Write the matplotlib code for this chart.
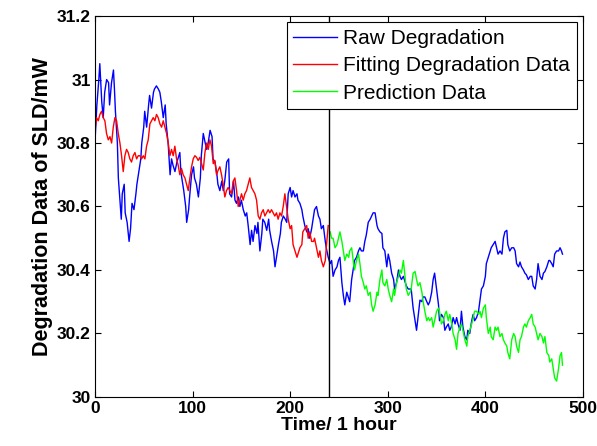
# GRÁFICO DE DEGRADAÇÃO DO SLD - dados brutos, ajuste e previsão #
import numpy as np
import matplotlib
matplotlib.use("Agg")
import matplotlib.pyplot as plt
from matplotlib.ticker import FormatStrFormatter

# Dados brutos (linha azul)
raw_hours = [0, 2, 4, 5, 7, 8.5, 10, 12, 14, 15, 17, 19, 20, 21, 23, 24, 26, 27, 28, 30,
             31, 33, 35, 36.5, 38, 40, 42, 43, 45, 47, 48, 50, 51, 53, 55, 56, 58, 60, 61, 63,
             65, 66.5, 68, 70, 72, 73, 75, 77, 78.5, 80, 82, 84, 85, 87, 88, 89, 91, 93, 94, 96,
             97, 99, 101, 102, 104, 106, 108, 109, 111, 113, 114.5, 116, 118, 120, 121, 123, 125, 126, 128, 130,
             131.5, 133, 135, 137, 138, 140, 142, 143.5, 145, 147, 148.5, 150, 152, 154, 155.5, 157, 159, 160.5, 162, 164,
             166, 167, 169, 171, 172, 174, 176, 178, 179, 181, 183, 184.5, 186, 188, 190, 191, 193, 195, 196.5, 198,
             200, 201.5, 203, 205, 207, 208, 210, 212, 213, 215, 217, 218.5, 220, 222, 224, 225, 227, 229, 230.5, 232,
             234, 236, 237, 239, 241, 242.5, 244, 246, 248, 249.5, 251, 253, 254.5, 256, 258, 260, 261, 263, 265, 266,
             268, 270, 271.5, 273, 275, 276.5, 278, 280, 282, 283.5, 285, 287, 289, 290, 292, 294, 295, 297, 299, 300.5,
             302, 304, 306, 307, 309, 311, 312.5, 314, 316, 318, 319, 321, 323, 324, 326, 328, 329.5, 331, 333, 335,
             336, 338, 340, 341.5, 343, 345, 346.5, 348, 350, 352, 353, 355, 357, 358.5, 360, 362, 363.5, 365, 367, 369,
             370.5, 372, 374, 375.5, 377, 379, 381, 382, 384, 386, 387.5, 389, 391, 393, 394.5, 396, 398, 400, 401, 403,
             405, 406, 408, 410, 411.5, 413, 415, 417, 418.5, 420, 422, 423, 425, 427, 429, 430.5, 432, 434, 435.5, 437,
             439, 440.5, 442, 444, 446, 447.5, 449, 451, 452.5, 454, 456, 458, 459.5, 461, 463, 465, 466, 468, 469.5, 471,
             473, 475, 476.5, 478, 479]
raw_values = [30.80, 30.92, 31.00, 31.05, 30.93, 30.88, 30.96, 31.00, 30.99, 30.92, 30.99, 31.03, 30.97, 30.90, 30.80, 30.69, 30.60, 30.56, 30.64, 30.67,
              30.58, 30.55, 30.49, 30.53, 30.61, 30.59, 30.64, 30.67, 30.71, 30.75, 30.80, 30.85, 30.90, 30.85, 30.92, 30.95, 30.91, 30.96, 30.97, 30.98,
              30.97, 30.96, 30.93, 30.88, 30.92, 30.86, 30.80, 30.70, 30.75, 30.73, 30.71, 30.74, 30.75, 30.77, 30.71, 30.69, 30.65, 30.60, 30.55, 30.59,
              30.63, 30.70, 30.725, 30.69, 30.67, 30.63, 30.69, 30.76, 30.83, 30.80, 30.78, 30.80, 30.84, 30.82, 30.75, 30.74, 30.70, 30.67, 30.65, 30.68,
              30.65, 30.68, 30.74, 30.75, 30.64, 30.63, 30.68, 30.62, 30.61, 30.63, 30.60, 30.62, 30.59, 30.57, 30.58, 30.54, 30.48, 30.525, 30.49, 30.54,
              30.515, 30.55, 30.46, 30.515, 30.56, 30.55, 30.525, 30.56, 30.525, 30.49, 30.46, 30.41, 30.44, 30.48, 30.515, 30.55, 30.57, 30.56, 30.55, 30.64,
              30.66, 30.63, 30.65, 30.63, 30.64, 30.62, 30.61, 30.59, 30.57, 30.54, 30.52, 30.53, 30.50, 30.53, 30.57, 30.59, 30.60, 30.57, 30.56, 30.53,
              30.54, 30.49, 30.47, 30.44, 30.42, 30.43, 30.38, 30.40, 30.41, 30.43, 30.44, 30.36, 30.32, 30.29, 30.33, 30.31, 30.30, 30.37, 30.41, 30.43,
              30.44, 30.46, 30.47, 30.46, 30.46, 30.49, 30.51, 30.55, 30.56, 30.57, 30.58, 30.58, 30.54, 30.53, 30.52, 30.515, 30.47, 30.46, 30.41, 30.45,
              30.43, 30.39, 30.37, 30.34, 30.36, 30.40, 30.38, 30.37, 30.38, 30.36, 30.35, 30.34, 30.34, 30.34, 30.28, 30.24, 30.21, 30.25, 30.305, 30.30,
              30.315, 30.315, 30.30, 30.29, 30.30, 30.33, 30.37, 30.39, 30.34, 30.29, 30.24, 30.26, 30.25, 30.21, 30.22, 30.23, 30.21, 30.22, 30.25, 30.23,
              30.25, 30.23, 30.21, 30.27, 30.22, 30.19, 30.18, 30.21, 30.20, 30.24, 30.26, 30.24, 30.25, 30.27, 30.305, 30.34, 30.35, 30.38, 30.42, 30.44,
              30.46, 30.47, 30.48, 30.49, 30.47, 30.45, 30.46, 30.45, 30.50, 30.52, 30.525, 30.48, 30.46, 30.47, 30.47, 30.46, 30.42, 30.41, 30.425, 30.41,
              30.40, 30.39, 30.385, 30.37, 30.38, 30.38, 30.35, 30.34, 30.37, 30.42, 30.38, 30.37, 30.39, 30.395, 30.41, 30.43, 30.43, 30.42, 30.41, 30.45,
              30.46, 30.46, 30.47, 30.46, 30.45]

# Dados ajustados (linha vermelha) - até 240 h
fit_hours = [0, 1.7, 3.4, 5.1, 6.8, 8.5, 10.2, 11.9, 13.7, 15.4, 17.1, 18.8, 20.5, 22.2, 23.9, 25.6, 27.3, 29.0, 30.7, 32.4,
             34.1, 35.8, 37.5, 39.2, 41.0, 42.7, 44.4, 46.1, 47.8, 49.5, 51.2, 52.9, 54.6, 56.3, 58.0, 59.7, 61.4, 63.1, 64.8, 66.6,
             68.3, 70.0, 71.7, 73.4, 75.1, 76.8, 78.5, 80.2, 81.9, 83.6, 85.3, 87.0, 88.7, 90.4, 92.2, 93.9, 95.6, 97.3, 99.0, 100.7,
             102.4, 104.1, 105.8, 107.5, 109.2, 111.0, 112.7, 114.4, 116.1, 117.8, 119.5, 121.2, 122.9, 124.6, 126.3, 128.0, 129.7, 131.4, 133.1, 134.8,
             136.5, 138.3, 140.0, 141.7, 143.4, 145.1, 146.8, 148.5, 150.2, 151.9, 153.6, 155.3, 157.0, 158.7, 160.4, 162.1, 163.9, 165.6, 167.3, 169.0,
             170.7, 172.4, 174.1, 175.8, 177.5, 179.2, 180.9, 182.6, 184.3, 186.0, 187.7, 189.5, 191.2, 192.9, 194.6, 196.3, 198, 200, 201.5, 203,
             205, 207, 208, 210, 212, 213, 215, 217, 218.5, 220, 222, 224, 225, 227, 229, 230.5, 232, 234, 236, 237,
             239]
fit_values = [30.84, 30.88, 30.87, 30.89, 30.90, 30.88, 30.87, 30.83, 30.81, 30.82, 30.80, 30.85, 30.88, 30.87, 30.83, 30.80, 30.76, 30.71, 30.76, 30.78,
              30.77, 30.75, 30.74, 30.76, 30.77, 30.75, 30.76, 30.76, 30.75, 30.76, 30.75, 30.79, 30.81, 30.86, 30.87, 30.88, 30.87, 30.89, 30.88, 30.86,
              30.85, 30.87, 30.85, 30.83, 30.80, 30.76, 30.78, 30.76, 30.79, 30.75, 30.73, 30.70, 30.72, 30.70, 30.69, 30.67, 30.65, 30.69, 30.725, 30.75,
              30.76, 30.755, 30.745, 30.755, 30.735, 30.715, 30.77, 30.80, 30.78, 30.81, 30.79, 30.735, 30.745, 30.70, 30.715, 30.725, 30.70, 30.67, 30.63, 30.65,
              30.66, 30.65, 30.64, 30.68, 30.69, 30.65, 30.60, 30.62, 30.64, 30.62, 30.64, 30.65, 30.67, 30.69, 30.66, 30.65, 30.64, 30.62, 30.57, 30.56,
              30.58, 30.59, 30.57, 30.58, 30.59, 30.58, 30.59, 30.58, 30.57, 30.58, 30.56, 30.58, 30.57, 30.60, 30.64, 30.60, 30.56, 30.53, 30.54, 30.48,
              30.46, 30.44, 30.45, 30.47, 30.48, 30.52, 30.53, 30.54, 30.50, 30.52, 30.49, 30.49, 30.50, 30.47, 30.44, 30.46, 30.43, 30.41, 30.43, 30.47,
              30.54]

# Dados de previsão (linha verde) - a partir de 240 h
pred_hours = [241, 242.5, 244, 246, 248, 249.5, 251, 253, 254.5, 256, 258, 260, 261, 263, 265, 266, 268, 270, 271.5, 273,
              275, 276.5, 278, 280, 282, 283.5, 285, 287, 289, 290, 292, 294, 295, 297, 299, 300.5, 302, 304, 306, 307,
              309, 311, 312.5, 314, 316, 318, 319, 321, 323, 324, 326, 328, 329.5, 331, 333, 335, 336, 338, 340, 341.5,
              343, 345, 346.5, 348, 350, 352, 353, 355, 357, 358.5, 360, 362, 363.5, 365, 367, 369, 370.5, 372, 374, 375.5,
              377, 379, 381, 382, 384, 386, 387.5, 389, 391, 393, 394.5, 396, 398, 400, 401, 403, 405, 406, 408, 410,
              411.5, 413, 415, 417, 418.5, 420, 422, 423, 425, 427, 429, 430.5, 432, 434, 435.5, 437, 439, 440.5, 442, 444,
              446, 447.5, 449, 451, 452.5, 454, 456, 458, 459.5, 461, 463, 465, 466, 468, 469.5, 471, 473, 475, 476.5, 478,
              479]
pred_values = [30.52, 30.50, 30.50, 30.47, 30.48, 30.50, 30.52, 30.49, 30.46, 30.43, 30.45, 30.44, 30.46, 30.47, 30.42, 30.40, 30.43, 30.45, 30.42, 30.38,
               30.36, 30.34, 30.35, 30.32, 30.33, 30.29, 30.27, 30.29, 30.33, 30.32, 30.37, 30.40, 30.36, 30.35, 30.37, 30.34, 30.32, 30.30, 30.34, 30.32,
               30.36, 30.38, 30.40, 30.39, 30.43, 30.37, 30.34, 30.32, 30.33, 30.34, 30.39, 30.395, 30.37, 30.35, 30.36, 30.33, 30.305, 30.27, 30.24, 30.25,
               30.24, 30.25, 30.22, 30.24, 30.27, 30.28, 30.27, 30.23, 30.24, 30.26, 30.27, 30.24, 30.26, 30.24, 30.20, 30.18, 30.15, 30.20, 30.22, 30.23,
               30.21, 30.18, 30.16, 30.19, 30.21, 30.23, 30.25, 30.27, 30.27, 30.26, 30.27, 30.25, 30.28, 30.29, 30.25, 30.20, 30.22, 30.19, 30.18, 30.22,
               30.21, 30.22, 30.19, 30.20, 30.18, 30.17, 30.16, 30.14, 30.12, 30.18, 30.20, 30.19, 30.16, 30.14, 30.18, 30.19, 30.22, 30.23, 30.22, 30.24,
               30.25, 30.26, 30.23, 30.22, 30.20, 30.18, 30.20, 30.19, 30.17, 30.19, 30.14, 30.13, 30.11, 30.12, 30.09, 30.06, 30.05, 30.09, 30.13, 30.14,
               30.10]

split_hour = 240  # instante em que começa a previsão

x_ticks = [0, 100, 200, 300, 400, 500]
y_ticks = [30, 30.2, 30.4, 30.6, 30.8, 31, 31.2]

plt.rcParams['font.family'] = ['Liberation Sans', 'DejaVu Sans']

fig = plt.figure(figsize=(5.97, 4.46), dpi=100)
ax = fig.add_axes([0.159, 0.110, 0.8175, 0.854])

ax.plot(raw_hours, raw_values, color='#0000ff', linewidth=1.0, label='Raw Degradation')
ax.plot(fit_hours, fit_values, color='#ff0000', linewidth=1.0, label='Fitting Degradation Data')
ax.plot(pred_hours, pred_values, color='#00ff00', linewidth=1.0, label='Prediction Data')
ax.axvline(split_hour, color='black', linewidth=1.0)

ax.set_xlim(0, 500)
ax.set_ylim(30, 31.2)
ax.set_xticks(x_ticks)
ax.set_yticks(y_ticks)
ax.yaxis.set_major_formatter(FormatStrFormatter('%g'))

# estilo MATLAB: ticks para dentro nos quatro lados
ax.tick_params(direction='in', length=4, width=0.8, top=True, right=True, labelsize=12.5, pad=3)
for lbl in ax.get_xticklabels() + ax.get_yticklabels():
    lbl.set_fontweight('bold')
for s in ax.spines.values():
    s.set_linewidth(0.8)

ax.set_xlabel('Time/ 1 hour', fontsize=14, fontweight='bold', labelpad=1)
ax.set_ylabel('Degradation Data of SLD/mW', fontsize=15.5, fontweight='bold', labelpad=3)

leg = ax.legend(loc='upper right', fontsize=15, frameon=True, fancybox=False, framealpha=1,
                edgecolor='black', handlelength=2.1, handletextpad=0.3, labelspacing=0.4,
                borderpad=0.32, borderaxespad=0.3)
leg.get_frame().set_linewidth(0.8)

plt.savefig('out.png', dpi=100)
